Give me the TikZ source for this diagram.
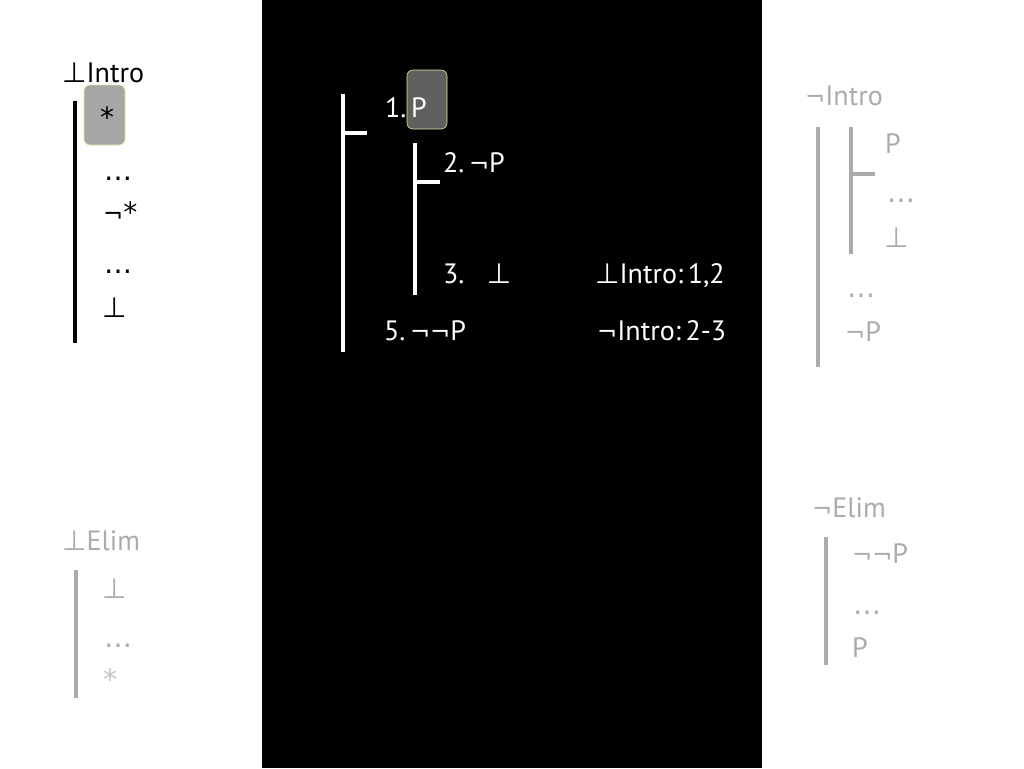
\documentclass[tikz,border=0pt]{standalone}
\usepackage{fontspec}
\setmainfont{PT Sans}
\newfontfamily\symf{DejaVu Sans}
\newcommand{\fbot}{{\symf\char"22A5}}
\newcommand{\fneg}{{\symf\fontsize{24}{28}\selectfont\char"00AC}}
\newcommand{\fast}{{\symf *}}
\newcommand{\fdots}{{\symf\char"2026}}
\definecolor{lgray}{HTML}{ABABAB}
\definecolor{lgray2}{HTML}{C4C4C4}
\definecolor{boxA}{HTML}{A6A6A6}
\definecolor{boxB}{HTML}{606060}
\definecolor{edgeY}{HTML}{E8E4A0}
\tikzset{
  txt/.style={anchor=base west, inner sep=0pt, font=\fontsize{28}{32}\selectfont},
  blk/.style={txt, text=black},
  wht/.style={txt, text=white},
  gry/.style={txt, text=lgray},
  bar/.style={line width=4pt},
  hl/.style={rounded corners=6pt, draw=edgeY, line width=0.6pt},
}
\begin{document}
\begin{tikzpicture}[x=1pt,y=-1pt]
\useasboundingbox (0,0) rectangle (1024,768);
\fill[white] (0,0) rectangle (1024,768);
\fill[black] (262,0) rectangle (762,768);

% ---- left: bot intro
\fill[boxA, hl] (84,85) rectangle (125,145);
\node[blk] (li) at (62,82) {\fbot Intro};
\coordinate (lb1) at (75,101); \coordinate (lb2) at (75,343);
\draw[bar, black] (lb1) -- (lb2);
\node[blk] (l1) at (100,127) {\fast};
\node[blk] (l2) at (104,180) {\fdots};
\node[blk] (l3) at (103,222) {\fneg\fast};
\node[blk] (l4) at (104,273) {\fdots};
\node[blk] (l5) at (102,317) {\fbot};

% ---- middle proof
\fill[boxB, hl] (407,70) rectangle (447,129);
\coordinate (m1) at (343,94); \coordinate (m2) at (343,352);
\draw[bar, white] (m1) -- (m2);
\coordinate (mt1) at (343,133); \coordinate (mt2) at (367,133);
\draw[bar, white] (mt1) -- (mt2);
\coordinate (n1) at (415,143); \coordinate (n2) at (415,295);
\draw[bar, white] (n1) -- (n2);
\coordinate (nt1) at (415,182); \coordinate (nt2) at (440,182);
\draw[bar, white] (nt1) -- (nt2);
\node[wht] (p1) at (385,117) {1.\,P};
\node[wht] (p2) at (443,172) {2.\,\fneg P};
\node[wht] (p3) at (443,283) {3.\hspace{0.8em}\fbot};
\node[wht] (p3r) at (595,283) {\fbot Intro:\,1,2};
\node[wht] (p5) at (384,340) {5.\,\fneg\fneg P};
\node[wht] (p5r) at (597,340) {\fneg Intro:\,2-3};

% ---- right: neg intro
\node[gry] (ri) at (805,105) {\fneg Intro};
\coordinate (r1) at (818,127); \coordinate (r2) at (818,367);
\draw[bar, lgray] (r1) -- (r2);
\coordinate (s1) at (851,127); \coordinate (s2) at (851,254);
\draw[bar, lgray] (s1) -- (s2);
\coordinate (st1) at (851,174); \coordinate (st2) at (875,174);
\draw[bar, lgray] (st1) -- (st2);
\node[gry] (r3) at (885,153) {P};
\node[gry] (r4) at (887,202) {\fdots};
\node[gry] (r5) at (884,247) {\fbot};
\node[gry] (r6) at (847,297) {\fdots};
\node[gry] (r7) at (845,341) {\fneg P};

% ---- bottom left: bot elim
\node[gry] (be) at (62,550) {\fbot Elim};
\coordinate (b1) at (76,570); \coordinate (b2) at (76,698);
\draw[bar, lgray] (b1) -- (b2);
\node[gry] (b3) at (102,598) {\fbot};
\node[gry] (b4) at (104,647) {\fdots};
\node[txt, text=lgray2] (b5) at (103,689) {\fast};

% ---- bottom right: neg elim
\node[gry] (ne) at (812,517) {\fneg Elim};
\coordinate (c1) at (826,537); \coordinate (c2) at (826,665);
\draw[bar, lgray] (c1) -- (c2);
\node[gry] (c3) at (852,563) {\fneg\fneg P};
\node[gry] (c4) at (853,614) {\fdots};
\node[gry] (c5) at (852,657) {P};
\end{tikzpicture}
\end{document}
